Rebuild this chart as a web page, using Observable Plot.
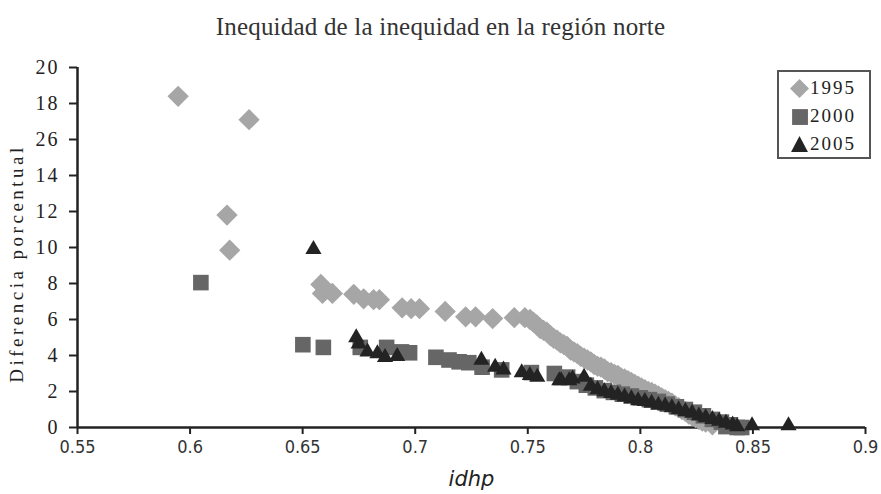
<!DOCTYPE html>
<html>
<head>
<meta charset="utf-8">
<script src="https://cdn.jsdelivr.net/npm/d3@7"></script>
<script src="https://cdn.jsdelivr.net/npm/@observablehq/plot@0.6"></script>
<style>
  html, body { margin: 0; padding: 0; background: #fff; }
  #wrap { position: relative; width: 881px; height: 494px; overflow: hidden; }
  #title { position: absolute; left: 0; top: 13px; width: 881px; text-align: center;
           font-family: "Liberation Serif", serif; font-size: 25px; color: #333; letter-spacing: 0.2px; }
  #chart { position: absolute; left: 0; top: 52px; }
  #legend { position: absolute; left: 777px; top: 70px; width: 90px; height: 85px;
            border: 2px solid #555; background: #fff; font-family: "Liberation Serif", serif;
            font-size: 19px; color: #222; letter-spacing: 2px; }
  .li { position: absolute; left: 0; height: 28px; display: flex; align-items: center; }
  .li svg { margin-left: 11px; margin-right: 1px; }
  .ytl text { letter-spacing: 2px; }
</style>
</head>
<body>
<div id="wrap">
  <div id="title">Inequidad de la inequidad en la región norte</div>
  <div id="chart"></div>
  <div id="legend"></div>
</div>
<script>
// ---- data ----
const series = ["1995", "2000", "2005"];
const seriesColors = ["#a6a6a6", "#666666", "#232323"];
const seriesSymbols = ["diamond2", "square", "triangle"];

const x1995 = [0.5947, 0.6262, 0.6164, 0.6176, 0.6581, 0.6588, 0.6632, 0.6727, 0.6771, 0.6815, 0.6841,
  0.6942, 0.6982, 0.7019, 0.7133, 0.7224, 0.7268, 0.7344, 0.744, 0.7487,
  0.751, 0.7525, 0.754, 0.7555, 0.757, 0.7585, 0.760, 0.7615, 0.763, 0.7645, 0.766, 0.7675, 0.769, 0.7705,
  0.772, 0.7735, 0.775, 0.7765, 0.778, 0.7795, 0.781, 0.7825, 0.784, 0.7855, 0.787, 0.7885, 0.790, 0.7915,
  0.793, 0.7945, 0.796, 0.7975, 0.799, 0.8005, 0.802, 0.8035, 0.805, 0.8065, 0.808, 0.8095, 0.811, 0.8125,
  0.814, 0.8155, 0.817, 0.8185, 0.820, 0.8215, 0.823, 0.8245, 0.826, 0.8275, 0.829, 0.832];
const y1995 = [18.4, 17.1, 11.8, 9.85, 7.95, 7.45, 7.45, 7.4, 7.15, 7.1, 7.1,
  6.65, 6.6, 6.6, 6.45, 6.15, 6.15, 6.05, 6.1, 6.1,
  6.0, 5.85, 5.7, 5.5, 5.4, 5.3, 5.1, 4.95, 4.85, 4.7, 4.6, 4.5, 4.3, 4.2,
  4.1, 3.95, 3.85, 3.75, 3.65, 3.5, 3.4, 3.35, 3.25, 3.1, 3.05, 2.95, 2.9, 2.75,
  2.7, 2.6, 2.5, 2.4, 2.3, 2.2, 2.1, 2.0, 1.95, 1.85, 1.75, 1.65, 1.55, 1.45,
  1.35, 1.2, 1.1, 1.0, 0.9, 0.75, 0.65, 0.55, 0.45, 0.35, 0.3, 0.15];

const x2000 = [0.6048, 0.6501, 0.6592, 0.6756, 0.6873, 0.6939, 0.6975, 0.7092, 0.715, 0.7195, 0.7238,
  0.7297, 0.7384, 0.7516, 0.7618, 0.7677, 0.772, 0.776, 0.780, 0.784, 0.788, 0.792, 0.796, 0.800,
  0.804, 0.808, 0.812, 0.816, 0.820, 0.824, 0.828, 0.832, 0.836, 0.838, 0.840, 0.843, 0.845];
const y2000 = [8.05, 4.6, 4.45, 4.45, 4.45, 4.2, 4.15, 3.9, 3.75, 3.65, 3.6,
  3.35, 3.2, 3.05, 3.0, 2.8, 2.55, 2.35, 2.2, 2.05, 1.95, 1.85, 1.75, 1.65,
  1.55, 1.45, 1.3, 1.15, 1.0, 0.85, 0.65, 0.45, 0.3, 0.05, 0.15, 0.0, 0.0];

const x2005 = [0.6548, 0.6738, 0.6749, 0.6788, 0.6832, 0.6866, 0.692, 0.7294, 0.7355, 0.7392, 0.7473,
  0.7509, 0.7542, 0.764, 0.7648, 0.7684, 0.7699, 0.775, 0.778, 0.781, 0.784, 0.787, 0.790, 0.793,
  0.796, 0.799, 0.802, 0.805, 0.808, 0.811, 0.814, 0.817, 0.820, 0.823, 0.826, 0.829, 0.832, 0.835,
  0.838, 0.841, 0.843, 0.8496, 0.8658];
const y2005 = [9.9, 5.0, 4.65, 4.2, 4.1, 3.9, 3.95, 3.75, 3.35, 3.2, 3.05,
  2.9, 2.8, 2.6, 2.6, 2.6, 2.7, 2.8, 2.3, 2.1, 2.0, 1.9, 1.8, 1.7,
  1.6, 1.5, 1.45, 1.35, 1.25, 1.2, 1.1, 1.0, 0.9, 0.8, 0.65, 0.55, 0.45, 0.35,
  0.25, 0.15, 0.05, 0.1, 0.1];

const xTicks = [0.55, 0.6, 0.65, 0.7, 0.75, 0.8, 0.85, 0.9];
const xTickLabels = ["0.55", "0.6", "0.65", "0.7", "0.75", "0.8", "0.85", "0.9"];
const yTicks = [0, 2, 4, 6, 8, 10, 12, 14, 16, 18, 20];
const yTickLabels = ["0", "2", "4", "6", "8", "10", "12", "14", "26", "18", "20"];

const xLabel = "idhp";
const yLabel = "Diferencia porcentual";

// ---- build tables ----
const toRows = (xs, ys, s) => xs.map((x, i) => ({x, y: ys[i], serie: s}));
const d1995 = toRows(x1995, y1995, "1995");
const d2000 = toRows(x2000, y2000, "2000");
const d2005 = toRows(x2005, y2005, "2005");

const chart = Plot.plot({
  width: 881,
  height: 442,
  marginLeft: 77,
  marginRight: 16,
  marginTop: 15,
  marginBottom: 67,
  style: {fontFamily: "Liberation Serif, serif", fontSize: "16px", color: "#222", background: "#fff", overflow: "visible"},
  x: {domain: [0.55, 0.9]},
  y: {domain: [0, 20]},
  marks: [
    Plot.axisX({ticks: xTicks, tickFormat: d => xTickLabels[xTicks.indexOf(d)], tickSize: 7, strokeWidth: 2,
      tickPadding: 6, fontSize: 18, fontFamily: "Liberation Sans Narrow, DejaVu Sans Condensed, sans-serif",
      label: null, stroke: "#222", fill: "#333"}),
    Plot.axisY({ticks: yTicks, tickFormat: d => yTickLabels[yTicks.indexOf(d)], tickSize: 8, strokeWidth: 2,
      tickPadding: 10, fontSize: 20, label: null, stroke: "#222", fill: "#222", className: "ytl"}),
    Plot.ruleY([0], {stroke: "#222", strokeWidth: 2.5}),
    Plot.ruleX([0.55], {stroke: "#222", strokeWidth: 2.5}),
    Plot.dot(d1995, {x: "x", y: "y", symbol: seriesSymbols[0], r: 9.6, fill: seriesColors[0], stroke: "none"}),
    Plot.dot(d2000, {x: "x", y: "y", symbol: seriesSymbols[1], r: 8.8, fill: seriesColors[1], stroke: "none"}),
    Plot.dot(d2005, {x: "x", y: "y", symbol: seriesSymbols[2], r: 6, fill: seriesColors[2], stroke: "none"}),
    Plot.text([xLabel], {frameAnchor: "bottom", dy: 58, fontFamily: "DejaVu Sans, sans-serif", fontStyle: "italic",
      fontSize: 21, fill: "#222"}),
    Plot.text([yLabel], {frameAnchor: "left", textAnchor: "middle", dx: -61, dy: 16, rotate: -90, fontSize: 19,
      fill: "#222", className: "ylab"})
  ]
});
document.getElementById("chart").appendChild(chart);
chart.querySelectorAll(".ylab text").forEach(t => t.style.letterSpacing = "3.5px");

// ---- legend ----
const legend = document.getElementById("legend");
const symPaths = {
  diamond2: '<path d="M9,0 L18,9 L9,18 L0,9 Z"/>',
  square: '<rect x="2" y="2" width="15" height="15"/>',
  triangle: '<path d="M9,1 L17,16 L1,16 Z"/>'
};
series.forEach((s, i) => {
  const div = document.createElement("div");
  div.className = "li";
  div.style.top = (2 + i * 28) + "px";
  div.innerHTML = `<svg width="19" height="19" viewBox="0 0 18 18" fill="${seriesColors[i]}">${symPaths[seriesSymbols[i]]}</svg><span>${s}</span>`;
  legend.appendChild(div);
});
</script>
</body>
</html>
